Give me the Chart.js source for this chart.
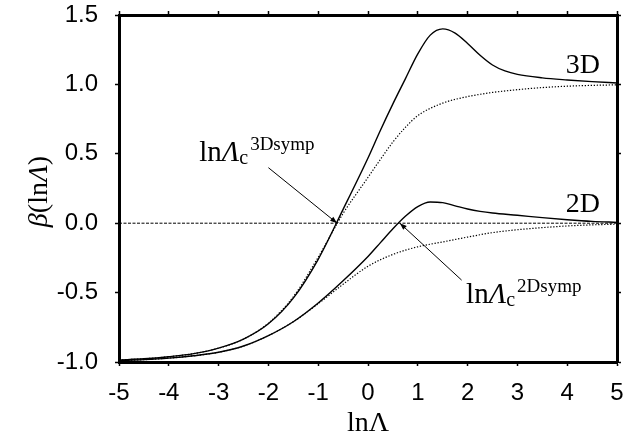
<!DOCTYPE html>
<html>
<head>
<meta charset="utf-8">
<script src="https://cdn.jsdelivr.net/npm/chart.js@4.4.1/dist/chart.umd.min.js"></script>
<style>
  html, body { margin: 0; padding: 0; background: #fff; }
  #wrap { width: 642px; height: 438px; }
</style>
</head>
<body>
<div id="wrap"><canvas id="c" width="642" height="438"></canvas></div>
<script>
// ---- data ----
const xTickLabels = ['-5','-4','-3','-2','-1','0','1','2','3','4','5'];
const yTickLabels = ['-1.0','-0.5','0.0','0.5','1.0','1.5'];

const xs3DSolid = [-5,-4.5,-4,-3.5,-3,-2.5,-2,-1.5,-1,-0.5,0,0.25,0.5,0.75,1,1.25,1.5,1.75,2,2.25,2.5,2.75,3,3.5,4,4.5,5];
const ys3DSolid = [-0.985,-0.977,-0.962,-0.94,-0.90,-0.835,-0.725,-0.54,-0.26,0.10,0.47,0.67,0.86,1.04,1.22,1.355,1.40,1.37,1.295,1.21,1.14,1.097,1.072,1.047,1.032,1.02,1.01];

const xs3DSymp = [-5,-4.5,-4,-3.5,-3,-2.5,-2,-1.5,-1,-0.5,0,0.25,0.5,0.75,1,1.5,2,2.5,3,3.5,4,4.5,5];
const ys3DSymp = [-0.985,-0.977,-0.962,-0.94,-0.90,-0.835,-0.72,-0.53,-0.245,0.07,0.33,0.46,0.585,0.69,0.775,0.865,0.912,0.942,0.962,0.977,0.987,0.993,0.997];

const xs2DSolid = [-5,-4.5,-4,-3.5,-3,-2.5,-2,-1.5,-1,-0.5,0,0.25,0.5,0.75,1,1.25,1.5,1.75,2,2.25,2.5,3,3.5,4,4.5,5];
const ys2DSolid = [-0.99,-0.983,-0.972,-0.955,-0.93,-0.885,-0.81,-0.71,-0.575,-0.415,-0.24,-0.14,-0.04,0.05,0.12,0.153,0.148,0.125,0.102,0.085,0.073,0.057,0.04,0.025,0.013,0.006];

const xs2DSymp = [-5,-4.5,-4,-3.5,-3,-2.5,-2,-1.5,-1,-0.5,0,0.5,1,1.5,2,2.5,3,3.5,4,4.5,5];
const ys2DSymp = [-0.99,-0.983,-0.972,-0.955,-0.93,-0.885,-0.81,-0.71,-0.58,-0.44,-0.31,-0.225,-0.17,-0.135,-0.1,-0.068,-0.047,-0.032,-0.02,-0.012,-0.007];

const xsZero = [-5, 5];
const ysZero = [0, 0];

const xTitle = 'lnΛ';
const yTitleParts = [['β', true], ['(ln', false], ['Λ', true], [')', false]];
const curveLabels = [
  { text: '3D', x: 4.66, y: 1.082 },
  { text: '2D', x: 4.66, y: 0.083 }
];
const sympLabels = [
  { sup: '3Dsymp', x: -3.39, y: 0.448, from: [-2.0, 0.40], to: [-0.62, 0.0] },
  { sup: '2Dsymp', x: 1.97, y: -0.575, from: [1.88, -0.41], to: [0.64, 0.0] }
];

const pts = (xs, ys) => xs.map((v, i) => ({ x: v, y: ys[i] }));

const SERIF = '"Liberation Serif", "Times New Roman", serif';
const SANS = '"Liberation Sans", Arial, sans-serif';

const annotPlugin = {
  id: 'annot',
  afterDatasetsDraw(chart) {
    const { ctx, scales: { x, y } } = chart;
    ctx.save();
    ctx.fillStyle = '#000';
    ctx.strokeStyle = '#000';
    ctx.textBaseline = 'alphabetic';
    // curve labels
    ctx.font = '28px ' + SERIF;
    ctx.textAlign = 'right';
    curveLabels.forEach(l => ctx.fillText(l.text, x.getPixelForValue(l.x), y.getPixelForValue(l.y)));
    // symp labels
    ctx.textAlign = 'left';
    sympLabels.forEach(l => {
      let px = x.getPixelForValue(l.x);
      const py = y.getPixelForValue(l.y);
      ctx.font = '29px ' + SERIF;
      ctx.fillText('ln', px, py);
      px += ctx.measureText('ln').width;
      ctx.font = 'italic 29px ' + SERIF;
      ctx.fillText('Λ', px, py);
      px += ctx.measureText('Λ').width;
      ctx.font = '20px ' + SERIF;
      ctx.fillText('c', px, py + 3);
      px += ctx.measureText('c').width + 2;
      ctx.font = '19px ' + SERIF;
      ctx.fillText(l.sup, px, py - 11);
      // arrow
      const x1 = x.getPixelForValue(l.from[0]), y1 = y.getPixelForValue(l.from[1]);
      const x2 = x.getPixelForValue(l.to[0]), y2 = y.getPixelForValue(l.to[1]);
      ctx.lineWidth = 1;
      ctx.beginPath(); ctx.moveTo(x1, y1); ctx.lineTo(x2, y2); ctx.stroke();
      const a = Math.atan2(y2 - y1, x2 - x1), L = 7, W = 2.6;
      ctx.beginPath();
      ctx.moveTo(x2, y2);
      ctx.lineTo(x2 - L * Math.cos(a) + W * Math.sin(a), y2 - L * Math.sin(a) - W * Math.cos(a));
      ctx.lineTo(x2 - L * Math.cos(a) - W * Math.sin(a), y2 - L * Math.sin(a) + W * Math.cos(a));
      ctx.closePath(); ctx.fill();
    });
    // y axis title (mixed italic)
    let total = 0;
    const widths = yTitleParts.map(([t, it]) => {
      ctx.font = (it ? 'italic ' : '') + '28px ' + SERIF;
      const w = ctx.measureText(t).width; total += w; return w;
    });
    ctx.translate(40, (chart.chartArea.top + chart.chartArea.bottom) / 2 + 3);
    ctx.rotate(-Math.PI / 2);
    ctx.textBaseline = 'middle';
    let cx = -total / 2;
    yTitleParts.forEach(([t, it], i) => {
      ctx.font = (it ? 'italic ' : '') + '28px ' + SERIF;
      ctx.fillText(t, cx, 0);
      cx += widths[i];
    });
    ctx.restore();
  }
};

const axisCommon = (min, max, step) => ({
  type: 'linear', min, max,
  ticks: { stepSize: step, color: '#000', font: { family: SANS, size: 24 } },
  grid: { display: true, drawOnChartArea: false, drawTicks: true, tickLength: 4, tickWidth: 1.5, tickColor: '#000' },
  border: { display: true, color: '#000', width: 3 }
});

const xScale = axisCommon(-5, 5, 1);
xScale.position = 'bottom';
xScale.ticks.padding = 13;
xScale.ticks.maxRotation = 0;
xScale.ticks.autoSkip = false;
xScale.ticks.callback = (v) => { const i = xTickLabels.indexOf(String(v)); return i >= 0 ? xTickLabels[i] : ''; };
xScale.title = { display: true, text: xTitle, color: '#000', font: { family: SERIF, size: 28, lineHeight: 1 }, padding: { top: 0, bottom: 0 } };
xScale.afterFit = (s) => { s.height = 76; s.paddingLeft = 0; s.paddingRight = 0; };

const yScale = axisCommon(-1, 1.5, 0.5);
yScale.position = 'left';
yScale.ticks.padding = 17;
yScale.ticks.callback = (v) => yTickLabels.find(t => Math.abs(parseFloat(t) - v) < 1e-9) || '';
yScale.afterFit = (s) => { s.width = 119; s.paddingTop = 0; s.paddingBottom = 0; };

const x2Scale = axisCommon(-5, 5, 1);
x2Scale.position = 'top';
x2Scale.ticks.display = false;
x2Scale.afterFit = (s) => { s.height = 0; s.paddingLeft = 0; s.paddingRight = 0; };

const y2Scale = axisCommon(-1, 1.5, 0.5);
y2Scale.position = 'right';
y2Scale.ticks.display = false;
y2Scale.afterFit = (s) => { s.width = 0; s.paddingTop = 0; s.paddingBottom = 0; };

const lineDs = (label, data, width, dash) => ({
  label, data, borderColor: '#000', backgroundColor: '#000', borderWidth: width,
  borderDash: dash, pointRadius: 0, fill: false, cubicInterpolationMode: 'monotone'
});

new Chart(document.getElementById('c'), {
  type: 'line',
  data: {
    datasets: [
      lineDs('zero', pts(xsZero, ysZero), 1, [3, 1.5]),
      lineDs('3D symptotic', pts(xs3DSymp, ys3DSymp), 1.2, [1.3, 1.7]),
      lineDs('2D symptotic', pts(xs2DSymp, ys2DSymp), 1.2, [1.3, 1.7]),
      lineDs('3D', pts(xs3DSolid, ys3DSolid), 1.4, []),
      lineDs('2D', pts(xs2DSolid, ys2DSolid), 1.4, [])
    ]
  },
  options: {
    responsive: false,
    animation: false,
    devicePixelRatio: 1,
    layout: { padding: { top: 15, right: 25, bottom: 0, left: 0 } },
    plugins: { legend: { display: false }, tooltip: { enabled: false } },
    scales: { x: xScale, y: yScale, x2: x2Scale, y2: y2Scale }
  },
  plugins: [annotPlugin]
});
</script>
</body>
</html>
